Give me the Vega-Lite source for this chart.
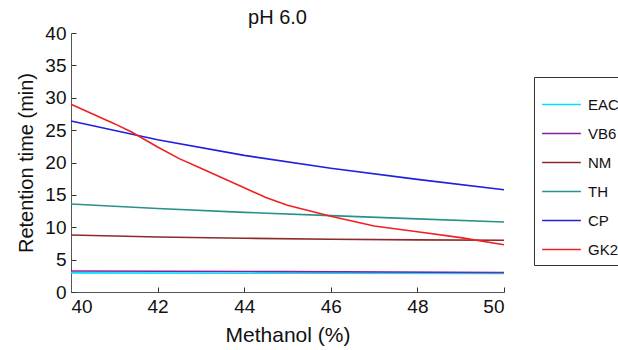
{
  "$schema": "https://vega.github.io/schema/vega-lite/v6.json",
  "width": 433,
  "height": 259,
  "autosize": {"type": "none"},
  "padding": {"left": 71, "top": 33, "right": 114, "bottom": 58},
  "background": "white",
  "title": {"text": "pH 6.0", "fontSize": 20, "font": "Liberation Sans", "fontWeight": "normal", "color": "#111", "anchor": "middle", "offset": -4, "dx": -10},
  "config": {
    "view": {"stroke": null},
    "font": "Liberation Sans"
  },
  "data": {"values": [
    {"s": "EAC", "m": 40, "t": 2.95}, {"s": "EAC", "m": 45, "t": 2.9}, {"s": "EAC", "m": 50, "t": 2.85},
    {"s": "VB6", "m": 40, "t": 3.25}, {"s": "VB6", "m": 45, "t": 3.15}, {"s": "VB6", "m": 50, "t": 3.0},
    {"s": "NM", "m": 40, "t": 8.8}, {"s": "NM", "m": 42, "t": 8.5}, {"s": "NM", "m": 44, "t": 8.3}, {"s": "NM", "m": 46, "t": 8.15}, {"s": "NM", "m": 48, "t": 8.05}, {"s": "NM", "m": 50, "t": 8.0},
    {"s": "TH", "m": 40, "t": 13.6}, {"s": "TH", "m": 42, "t": 12.9}, {"s": "TH", "m": 44, "t": 12.3}, {"s": "TH", "m": 46, "t": 11.8}, {"s": "TH", "m": 48, "t": 11.3}, {"s": "TH", "m": 50, "t": 10.8},
    {"s": "CP", "m": 40, "t": 26.4}, {"s": "CP", "m": 42, "t": 23.5}, {"s": "CP", "m": 44, "t": 21.1}, {"s": "CP", "m": 46, "t": 19.1}, {"s": "CP", "m": 48, "t": 17.4}, {"s": "CP", "m": 50, "t": 15.8},
    {"s": "GK2", "m": 40, "t": 29.0}, {"s": "GK2", "m": 41, "t": 26.0}, {"s": "GK2", "m": 41.4, "t": 24.7}, {"s": "GK2", "m": 42, "t": 22.4}, {"s": "GK2", "m": 42.5, "t": 20.6}, {"s": "GK2", "m": 43, "t": 19.1}, {"s": "GK2", "m": 44, "t": 16.1}, {"s": "GK2", "m": 44.5, "t": 14.6}, {"s": "GK2", "m": 45, "t": 13.4}, {"s": "GK2", "m": 46, "t": 11.7}, {"s": "GK2", "m": 47, "t": 10.2}, {"s": "GK2", "m": 48, "t": 9.3}, {"s": "GK2", "m": 49, "t": 8.4}, {"s": "GK2", "m": 50, "t": 7.3}
  ]},
  "mark": {"type": "line", "strokeWidth": 1.6},
  "encoding": {
    "x": {"field": "m", "type": "quantitative", "scale": {"domain": [40, 50], "nice": false, "zero": false},
      "axis": {"title": "Methanol (%)", "values": [40, 42, 44, 46, 48, 50], "grid": false, "tickSize": -5, "labelPadding": 10, "domainColor": "#555", "tickColor": "#333", "labelFontSize": 19, "labelColor": "#111", "titleFontSize": 21, "titleFontWeight": "normal", "titleColor": "#111", "titlePadding": 8}},
    "y": {"field": "t", "type": "quantitative", "scale": {"domain": [0, 40], "nice": false},
      "axis": {"title": "Retention time (min)", "values": [0, 5, 10, 15, 20, 25, 30, 35, 40], "grid": false, "tickSize": -5, "labelPadding": 10, "domainColor": "#555", "tickColor": "#333", "labelFontSize": 19, "labelColor": "#111", "titleFontSize": 20, "titleFontWeight": "normal", "titleColor": "#111", "titlePadding": 8}},
    "color": {"field": "s", "type": "nominal",
      "scale": {"domain": ["EAC", "VB6", "NM", "TH", "CP", "GK2"], "range": ["#00e0ff", "#8a1f9e", "#8e2a2a", "#2a918a", "#1f1fe0", "#ee2020"]},
      "legend": {"title": null, "orient": "none", "legendX": 463, "legendY": 44, "symbolType": "stroke", "symbolSize": 1500, "symbolStrokeWidth": 1.5, "labelFontSize": 15, "labelColor": "#111", "labelOffset": 6, "strokeColor": "#333", "padding": 7, "rowPadding": 0, "fillColor": "white"}}
  }
}
